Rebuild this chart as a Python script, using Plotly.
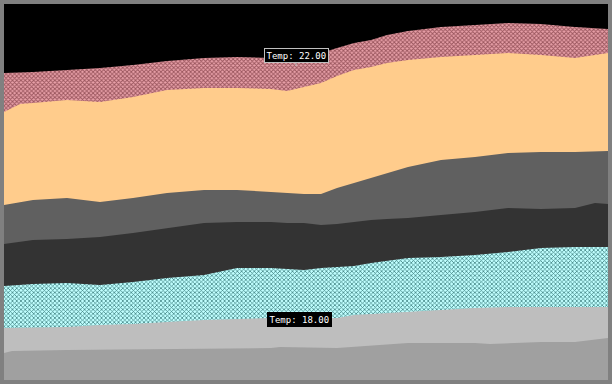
import plotly.graph_objects as go

# Horizontal positions (pixel-like units across the field)
xs_b1 = [4, 33, 67, 100, 133, 167, 204, 237, 271, 287, 304, 321, 337, 354, 371, 387, 408, 441, 475, 508, 541, 575, 608]
# Boundary depths (from top) for each isotherm band
b1 = [73, 72, 70, 68, 65, 61, 58, 57, 58, 58, 57, 53, 48, 43, 40, 35, 31, 27, 25, 23, 24, 27, 29]
xs_b2 = [4, 20, 33, 67, 100, 133, 167, 204, 237, 271, 287, 304, 321, 337, 354, 371, 387, 408, 441, 475, 508, 541, 575, 608]
b2 = [112, 104, 103, 100, 102, 97, 90, 88, 88, 89, 91, 87, 83, 76, 70, 67, 63, 60, 57, 55, 53, 55, 58, 53]
xs_b3 = [4, 33, 67, 100, 133, 167, 204, 237, 271, 287, 304, 321, 337, 354, 371, 387, 408, 441, 475, 508, 541, 575, 608]
b3 = [205, 200, 198, 202, 198, 193, 190, 190, 192, 193, 194, 194, 188, 183, 178, 173, 167, 160, 157, 153, 152, 152, 151]
xs_b4 = [4, 33, 67, 100, 133, 167, 204, 237, 271, 287, 304, 321, 337, 354, 371, 387, 408, 441, 475, 508, 541, 575, 595, 608]
b4 = [244, 240, 239, 237, 233, 228, 223, 222, 222, 223, 223, 225, 224, 222, 220, 219, 218, 215, 212, 208, 209, 208, 203, 204]
xs_b5 = [4, 33, 67, 100, 133, 167, 204, 237, 271, 287, 304, 321, 337, 354, 371, 387, 408, 441, 475, 508, 541, 575, 608]
b5 = [286, 284, 283, 285, 282, 278, 275, 268, 268, 269, 270, 268, 267, 266, 263, 261, 258, 257, 255, 252, 248, 247, 247]
xs_b6 = [4, 67, 100, 133, 167, 204, 271, 337, 354, 408, 441, 475, 508, 575, 608]
b6 = [328, 327, 325, 324, 322, 320, 318, 318, 315, 312, 310, 308, 307, 307, 307]
xs_b7 = [4, 12, 67, 204, 271, 280, 337, 408, 475, 490, 541, 575, 600, 608]
b7 = [353, 351, 350, 349, 348, 347, 348, 343, 343, 344, 342, 342, 339, 338]

label_text = ["Temp: 22.00", "Temp: 18.00"]
label_x = [296, 299.5]
label_y = [55.5, 319.5]

BOTTOM = 380
LEFT = 4

bands = [
    (xs_b1, b1, "#e8a0a8", "#98545c", 0.5),
    (xs_b2, b2, "#ffcc8c", None, 0),
    (xs_b3, b3, "#606060", None, 0),
    (xs_b4, b4, "#333333", None, 0),
    (xs_b5, b5, "#c0ffff", "#3a7c7c", 0.42),
    (xs_b6, b6, "#bebebe", None, 0),
    (xs_b7, b7, "#a0a0a0", None, 0),
]

fig = go.Figure()
for xs, ys, col, pat, sol in bands:
    tr = dict(
        x=[v - LEFT for v in xs],
        y=[BOTTOM - v for v in ys],
        mode="lines",
        line=dict(width=0),
        fill="tozeroy",
        fillcolor=col,
        hoverinfo="skip",
        showlegend=False,
    )
    if pat:
        tr["fillpattern"] = dict(shape="x", fgcolor=pat, bgcolor=col, size=3, solidity=sol, fillmode="replace")
    fig.add_trace(go.Scatter(**tr))

borders = ["#c0c0c0", "#000000"]
for t, x, y, bc in zip(label_text, label_x, label_y, borders):
    fig.add_annotation(
        x=x - LEFT, y=BOTTOM - y, text=t, showarrow=False,
        font=dict(family="DejaVu Sans Mono", size=9, color="white"),
        bgcolor="black", bordercolor=bc, borderwidth=1, borderpad=1.5,
        xref="x", yref="y",
    )

# small pointer tick under the upper label
fig.add_shape(type="line", x0=label_x[0] - LEFT, x1=label_x[0] - LEFT,
              y0=BOTTOM - 62.5, y1=BOTTOM - 66, line=dict(color="#c0c0c0", width=1))

fig.update_layout(
    width=612, height=384,
    margin=dict(l=4, r=4, t=4, b=4),
    paper_bgcolor="#808080",
    plot_bgcolor="#000000",
    xaxis=dict(range=[0, 604], visible=False, fixedrange=True),
    yaxis=dict(range=[0, 376], visible=False, fixedrange=True),
)
fig.write_html("out.html")
